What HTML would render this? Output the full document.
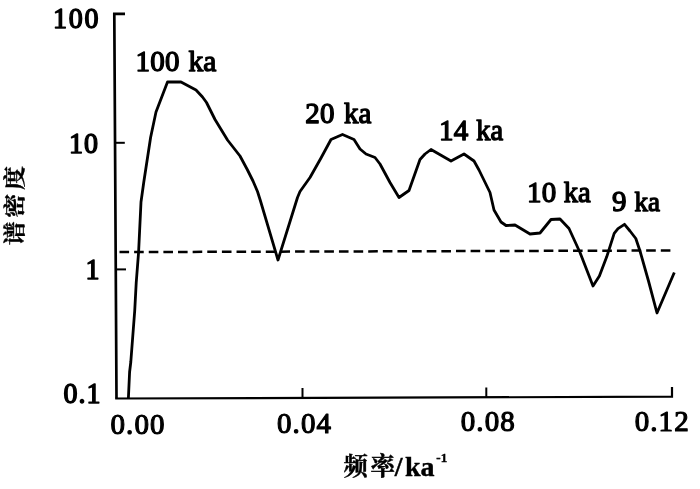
<!DOCTYPE html>
<html lang="zh">
<head>
<meta charset="utf-8">
<title>谱密度 - 频率</title>
<style>
html,body{margin:0;padding:0;background:#fff;}
body{width:700px;height:489px;overflow:hidden;}
svg{display:block;}
.num{font-family:"Liberation Serif","Noto Serif CJK SC",serif;font-size:28px;letter-spacing:1px;fill:#000;stroke:#000;stroke-width:1.4px;stroke-linejoin:round;}
.xn{font-size:29px;letter-spacing:1.1px;stroke-width:1.15px;}
.lab{font-family:"Liberation Serif","Noto Serif CJK SC",serif;font-size:29px;letter-spacing:0.3px;fill:#000;stroke:#000;stroke-width:1.35px;stroke-linejoin:round;}
.b{font-size:28.5px;letter-spacing:0;stroke-width:1.3px;}
.cjk{font-family:"Liberation Serif","Noto Serif CJK SC",serif;font-size:24px;font-weight:bold;fill:#000;stroke:#000;stroke-width:0.4px;}
</style>
</head>
<body>
<svg width="700" height="489" viewBox="0 0 700 489">
<rect width="700" height="489" fill="#fff"/>
<!-- axes -->
<g fill="none" stroke="#000" stroke-width="2.4" stroke-linecap="butt" stroke-linejoin="miter">
<polyline stroke-width="2.7" points="125,13.8 114.3,13.8 116.5,398.5"/>
<polyline stroke-width="2.2" points="115.2,398.5 672,396.7 672,387"/>
</g>
<g fill="none" stroke="#000" stroke-width="2">
<line x1="115" y1="142.8" x2="124.8" y2="142.8"/>
<line x1="116" y1="269.4" x2="126" y2="269.4"/>
<line x1="302.5" y1="397.5" x2="302.5" y2="388"/>
<line x1="486.3" y1="397" x2="486.3" y2="387.5"/>
</g>
<!-- dashed reference -->
<line x1="119.5" y1="252.1" x2="670.6" y2="250.5" stroke="#000" stroke-width="2.5" stroke-dasharray="9.6 5.03"/>
<!-- curve -->
<polyline fill="none" stroke="#000" stroke-width="2.8" stroke-linejoin="round" stroke-linecap="butt" points="
128.4,398 129.6,372 130.8,362 134.7,311 136.2,283 138.6,252 141,202 143.8,182 150.6,137.5 156,112 167.5,82 181,82 196,90 202.5,97 206.5,102.5 215,119.5 227.5,140 240,156 247.5,170 253,181 257.5,191.5 260.5,201 278,260 297.5,197.5 300,191.5 310,177.5 321,158 331,139.5 342.5,134.5 354,139.5 360,149 366,154 375,157.5 380,164 390,182.5 399,197.5 409,190.5 420,159.5 425,154 431,149.5 451,161 464,154 474,161 479,170 490,192.5 494,210 501,222 506,225.5 515,225 530,234 540,233 551,219.5 560,219 569,228.5 580,252.5 593,286 599.4,276 606.8,256.6 614.2,233.3 618,228.6 624.5,224.3 630,231 635.8,238.5 640,251 648.5,281 657,313 674.3,272.5"/>
<!-- y tick labels -->
<text class="num" transform="translate(100.2,27.7) scale(1,1.03)" text-anchor="end" style="letter-spacing:1.7px">100</text>
<text class="num" transform="translate(99,153) scale(1,1.03)" text-anchor="end">10</text>
<text class="num" transform="translate(100.5,279) scale(1,1.03)" text-anchor="end">1</text>
<text class="num" transform="translate(101.5,403.2) scale(1,1.03)" text-anchor="end">0.1</text>
<!-- x tick labels -->
<text class="num xn" transform="translate(138,433.5) scale(1,1.04)" text-anchor="middle">0.00</text>
<text class="num xn" transform="translate(304.5,432.5) scale(1,1.04)" text-anchor="middle">0.04</text>
<text class="num xn" transform="translate(488.3,431.0) scale(1,1.04)" text-anchor="middle">0.08</text>
<text class="num xn" transform="translate(662.2,430.5) scale(1,1.04)" text-anchor="middle">0.12</text>
<!-- peak labels -->
<text class="lab" x="135.5" y="70.5">100</text><text class="lab b" x="188.5" y="70.5" style="font-size:29.5px">ka</text>
<text class="lab" x="305.3" y="123.2">20</text><text class="lab b" x="344" y="123.2" style="font-size:29px">ka</text>
<text class="lab" x="439" y="139.8">14</text><text class="lab b" x="476.3" y="139.8">ka</text>
<text class="lab" x="527" y="202">10</text><text class="lab b" x="563.8" y="202">ka</text>
<text class="lab" x="612" y="211">9</text><text class="lab b" x="634.5" y="210.5" style="font-size:27px">ka</text>
<!-- axis titles -->
<text class="cjk" x="343.4" y="475" style="font-size:24.5px">频</text>
<text class="cjk" x="370.6" y="475" style="font-size:24.5px">率</text>
<text class="cjk" x="394.8" y="475.5" style="font-size:28px">/</text>
<text class="cjk" x="405" y="475.5" style="font-size:28px">ka</text>
<text class="cjk" x="436.3" y="462" style="font-size:13px">-1</text>
<text class="cjk" transform="translate(21.8,245.3) rotate(-90) scale(1,0.9)" style="letter-spacing:3.6px">谱密度</text>
</svg>
</body>
</html>
